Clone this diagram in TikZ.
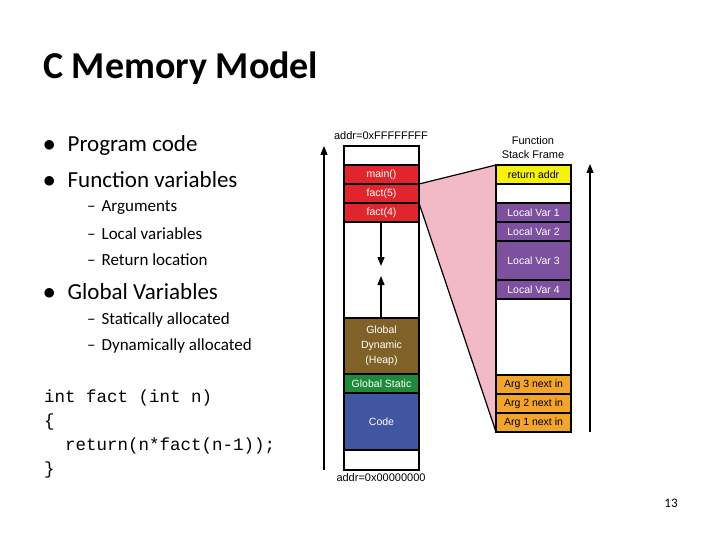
\documentclass[tikz,border=0pt]{standalone}
\usepackage{fontspec}
\setmainfont{Carlito}
\newfontfamily\dia{Liberation Sans}
\newfontfamily\cod{Liberation Mono}
\usetikzlibrary{arrows.meta}
\definecolor{cred}{HTML}{E0262C}
\definecolor{cbrown}{HTML}{806228}
\definecolor{cgreen}{HTML}{1F8A3C}
\definecolor{cblue}{HTML}{4156A0}
\definecolor{cpurple}{HTML}{7D50A0}
\definecolor{corange}{HTML}{F2A42B}
\definecolor{cyellow}{HTML}{F6F20E}
\definecolor{cpink}{HTML}{F2B9C6}
\begin{document}
\begin{tikzpicture}[x=1pt,y=-1pt,
  cell/.style={draw=black,line width=1.6pt,font=\dia\fontsize{10.5}{12}\selectfont,text=white,align=center},
  bul/.style={anchor=west,font=\fontsize{23}{26}\selectfont},
  sub/.style={anchor=west,font=\fontsize{17}{20}\selectfont},
  code/.style={anchor=west,font=\cod\fontsize{17.5}{20}\selectfont},
  lab/.style={font=\dia\fontsize{11}{13}\selectfont},
  arr/.style={line width=1.3pt,-{Triangle[length=9pt,width=7pt]}}]
\useasboundingbox (0,0) rectangle (720,540);
\fill[white] (0,0) rectangle (720,540);
\node[anchor=west,font=\bfseries\fontsize{38}{42}\selectfont,inner sep=0pt] (title) at (43,68) {C Memory Model};
\node[bul,inner sep=0pt] (b1) at (43,145) {$\bullet$\hspace{12pt}Program code};
\node[bul,inner sep=0pt] (b2) at (43,180) {$\bullet$\hspace{12pt}Function variables};
\node[sub,inner sep=0pt] (s1) at (87,208) {--\hspace{6pt}Arguments};
\node[sub,inner sep=0pt] (s2) at (87,234) {--\hspace{6pt}Local variables};
\node[sub,inner sep=0pt] (s3) at (87,260) {--\hspace{6pt}Return location};
\node[bul,inner sep=0pt] (b3) at (43,292) {$\bullet$\hspace{12pt}Global Variables};
\node[sub,inner sep=0pt] (s4) at (87,320) {--\hspace{6pt}Statically allocated};
\node[sub,inner sep=0pt] (s5) at (87,346) {--\hspace{6pt}Dynamically allocated};
\node[code,inner sep=0pt] (c1) at (44,398) {int fact (int n)};
\node[code,inner sep=0pt] (c2) at (44,422) {\{};
\node[code,inner sep=0pt] (c3) at (44,446) {\ \ return(n*fact(n-1));};
\node[code,inner sep=0pt] (c4) at (44,470) {\}};
\node[font=\fontsize{13}{15}\selectfont] (pg) at (671,503) {13};
% pink
\fill[cpink] (419,184) -- (496,165) -- (496,432) -- (419,203) -- cycle;
\draw[line width=1.2pt] (419,184) -- (496,165);
\draw[line width=1.2pt] (419,203) -- (496,432);
% left column
\draw[cell,fill=white] (344,146) rectangle (419,165);
\draw[cell,fill=cred] (344,165) rectangle node{main()} (419,184);
\draw[cell,fill=cred] (344,184) rectangle node{fact(5)} (419,203);
\draw[cell,fill=cred] (344,203) rectangle node{fact(4)} (419,222);
\draw[cell,fill=white] (344,222) rectangle (419,318);
\draw[line width=1.2pt] (381,300) -- (381,318);
\draw[cell,fill=cbrown] (344,318) rectangle node[font=\dia\fontsize{10.5}{15}\selectfont]{Global\\Dynamic\\(Heap)} (419,374);
\draw[cell,fill=cgreen] (344,374) rectangle node{Global Static} (419,393);
\draw[cell,fill=cblue] (344,393) rectangle node{Code} (419,450);
\draw[cell,fill=white] (344,450) rectangle (419,470);
\coordinate (d1) at (381,222); \coordinate (d2) at (381,266);
\coordinate (u1) at (381,300); \coordinate (u2) at (381,276);
\draw[arr] (d1) -- (d2);
\draw[arr] (u1) -- (u2);
\node[lab] (atop) at (381,136) {addr=0xFFFFFFFF};
\node[lab] (abot) at (381,478) {addr=0x00000000};
\coordinate (la1) at (324,470); \coordinate (la2) at (324,146);
\draw[arr] (la1) -- (la2);
% right column
\draw[cell,fill=cyellow,text=black] (496,165) rectangle node{return addr} (571,184);
\draw[cell,fill=white] (496,184) rectangle (571,203);
\draw[cell,fill=cpurple] (496,203) rectangle node{Local Var 1} (571,222);
\draw[cell,fill=cpurple] (496,222) rectangle node{Local Var 2} (571,241);
\draw[cell,fill=cpurple] (496,241) rectangle node{Local Var 3} (571,280);
\draw[cell,fill=cpurple] (496,280) rectangle node{Local Var 4} (571,299);
\draw[cell,fill=white] (496,299) rectangle (571,375);
\draw[cell,fill=corange,text=black] (496,375) rectangle node{Arg 3 next in} (571,394);
\draw[cell,fill=corange,text=black] (496,394) rectangle node{Arg 2 next in} (571,413);
\draw[cell,fill=corange,text=black] (496,413) rectangle node{Arg 1 next in} (571,432);
\node[lab,align=center] (fsf) at (533,148) {Function\\[1pt]Stack Frame};
\coordinate (ra1) at (590,432); \coordinate (ra2) at (590,164);
\draw[arr] (ra1) -- (ra2);
\end{tikzpicture}
\end{document}
